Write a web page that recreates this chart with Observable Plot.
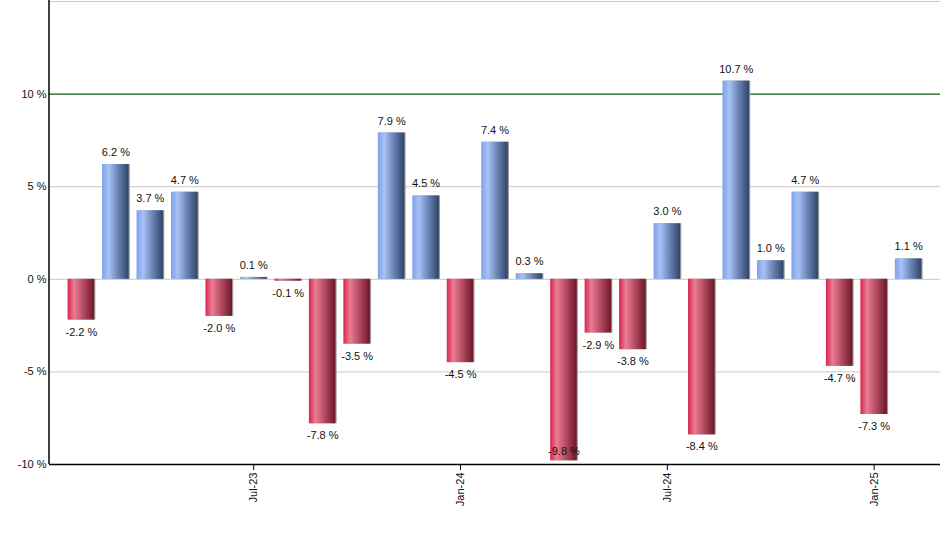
<!DOCTYPE html>
<html>
<head>
<meta charset="utf-8">
<script src="https://cdn.jsdelivr.net/npm/d3@7"></script>
<script src="https://cdn.jsdelivr.net/npm/@observablehq/plot@0.6"></script>
<style>
body { margin: 0; background: #fff; }
svg { font-family: "Liberation Sans", Arial, sans-serif; }
</style>
</head>
<body>
<div id="chart"></div>
<script>
const months = ["Feb-23","Mar-23","Apr-23","May-23","Jun-23","Jul-23","Aug-23","Sep-23","Oct-23","Nov-23","Dec-23",
  "Jan-24","Feb-24","Mar-24","Apr-24","May-24","Jun-24","Jul-24","Aug-24","Sep-24","Oct-24","Nov-24","Dec-24","Jan-25","Feb-25"];
const values = [-2.2, 6.2, 3.7, 4.7, -2.0, 0.1, -0.1, -7.8, -3.5, 7.9, 4.5,
  -4.5, 7.4, 0.3, -9.8, -2.9, -3.8, 3.0, -8.4, 10.7, 1.0, 4.7, -4.7, -7.3, 1.1];
const xTicks = ["Jul-23", "Jan-24", "Jul-24", "Jan-25"];
const yTicks = [-10, -5, 0, 5, 10];
const grayGrid = [15, 5, 0, -5];
const greenGrid = [10];

const data = months.map((m, i) => ({month: m, value: values[i]}));
const pos = data.filter(d => d.value >= 0);
const neg = data.filter(d => d.value < 0).map(d => ({...d, ly: Math.max(d.value, -8.65)}));
const fmt = v => `${v.toFixed(1)} %`;
const marginLeft = 49;

const chart = Plot.plot({
  width: 940,
  height: 550,
  marginLeft,
  marginRight: 0,
  marginTop: 1,
  marginBottom: 86,
  style: {fontFamily: '"Liberation Sans", Arial, sans-serif', fontSize: "11px", background: "#fff"},
  x: {domain: months, paddingInner: 0.23, paddingOuter: 0.54, round: false, label: null},
  y: {domain: [-10, 15], label: null},
  marks: [
    Plot.ruleY(grayGrid, {stroke: "#c8c8c8", strokeWidth: 1}),
    Plot.ruleY(greenGrid, {stroke: "#0b5e0b", strokeWidth: 1.4}),
    Plot.barY(data, {x: "month", y: "value", fill: "#9a9a9a", dx: 1.2}),
    Plot.barY(data, {x: "month", y: "value", fill: d => d.value >= 0 ? "url(#gradBlue)" : "url(#gradRed)"}),
    Plot.text(pos, {x: "month", y: "value", text: d => fmt(d.value), dy: -12, fill: "#111", fontSize: 11}),
    Plot.text(neg, {x: "month", y: "ly", text: d => fmt(d.value), dy: 12, fill: "#111", fontSize: 11}),
    Plot.ruleY([-10], {stroke: "#000", strokeWidth: 1.5}),
    Plot.axisY({ticks: yTicks, tickFormat: d => `${d} %`, tickSize: 0, tickPadding: 3, fontSize: 11, color: "#111", label: null}),
    Plot.axisX({ticks: xTicks, tickRotate: -90, tickSize: 6, tickPadding: 2, fontSize: 11, color: "#111", label: null, stroke: "#000"})
  ]
});

const svg = d3.select(chart.tagName.toLowerCase() === "svg" ? chart : chart.querySelector("svg"));
const defs = svg.insert("defs", ":first-child");
const addGrad = (id, stops) => {
  const g = defs.append("linearGradient").attr("id", id).attr("x1", "0%").attr("x2", "100%").attr("y1", "0%").attr("y2", "0%");
  stops.forEach(([o, c]) => g.append("stop").attr("offset", o).attr("stop-color", c));
};
addGrad("gradBlue", [["0%", "#7da1ea"], ["25%", "#a8c2f6"], ["60%", "#6b84b6"], ["100%", "#2f4468"]]);
addGrad("gradRed", [["0%", "#d9244e"], ["25%", "#ea7d93"], ["60%", "#b44a62"], ["100%", "#6b1727"]]);

// left axis line along the y scale range
const yr = chart.scale("y").range;
svg.append("line")
  .attr("x1", marginLeft).attr("x2", marginLeft)
  .attr("y1", Math.min(...yr) - 1).attr("y2", Math.max(...yr))
  .attr("stroke", "#000").attr("stroke-width", 1.5);

document.getElementById("chart").appendChild(chart);
</script>
</body>
</html>
